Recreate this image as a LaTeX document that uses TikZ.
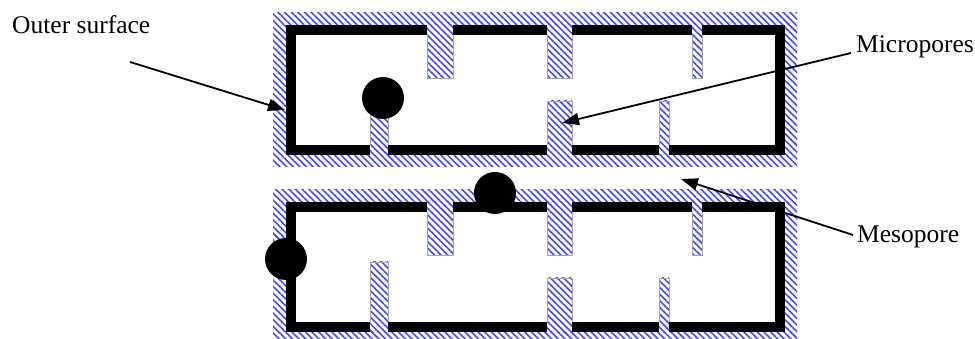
\documentclass[tikz,border=0pt]{standalone}
\usepackage{fontspec}
\setmainfont{Liberation Serif}
\usetikzlibrary{patterns.meta,arrows.meta}
\definecolor{hatchblue}{RGB}{70,70,255}
\tikzset{
	hatch/.style={pattern={Lines[angle=-45,distance=4.7pt,line width=1.6pt]},pattern color=hatchblue},
	pore/.style={fill=white,postaction={hatch}},
	poreside/.style={draw=gray!70,line width=0.8pt},
	wall/.style={fill=black},
	grain/.style={circle,fill=black,minimum size=42pt,inner sep=0pt},
	tag/.style={font=\fontsize{25.5}{30}\selectfont,inner sep=0pt,anchor=base west},
	pointer/.style={line width=1.8pt,-{Triangle[length=17pt,width=12pt]}}
}
\begin{document}
\begin{tikzpicture}[x=1pt,y=-1pt]
	\useasboundingbox (0,0) rectangle (975,339);
	% two slabs, the second one shifted down
	\foreach \dy in {0,177}{
	\begin{scope}[shift={(0,\dy)}]
		\fill[hatch] (273,13) rectangle (797,167);
		\fill[wall] (286,25) rectangle (785,155);
		\fill[white] (296,35) rectangle (775,145);
		% pores from the top wall
		\foreach \a/\b in {427/453,547/572,692/702}{
			\fill[pore] (\a,25) rectangle (\b,78);
			\draw[poreside] (\a,35) -- (\a,78) -- (\b,78) -- (\b,35);
		}
		% pores from the bottom wall
		\foreach \a/\b/\t in {370/388/85,547/572/101,659/669/101}{
			\fill[pore] (\a,\t) rectangle (\b,155);
			\draw[poreside] (\a,145) -- (\a,\t) -- (\b,\t) -- (\b,145);
		}
	\end{scope}
	}
	\node[grain] (g1) at (383,98) {};
	\node[grain] (g2) at (286,259) {};
	\node[grain] (g3) at (495,193) {};

	\node[tag] (outer) at (12,34) {Outer surface};
	\node[tag] (micro) at (856,53) {Micropores};
	\node[tag] (meso) at (857,243) {Mesopore};
	\coordinate (outer-a) at (130,62);
	\coordinate (outer-b) at (285,110);
	\coordinate (micro-a) at (851,53);
	\coordinate (micro-b) at (562,123);
	\coordinate (meso-a) at (853,235);
	\coordinate (meso-b) at (681,179);
	\draw[pointer] (outer-a) -- (outer-b);
	\draw[pointer] (micro-a) -- (micro-b);
	\draw[pointer] (meso-a) -- (meso-b);
\end{tikzpicture}
\end{document}
